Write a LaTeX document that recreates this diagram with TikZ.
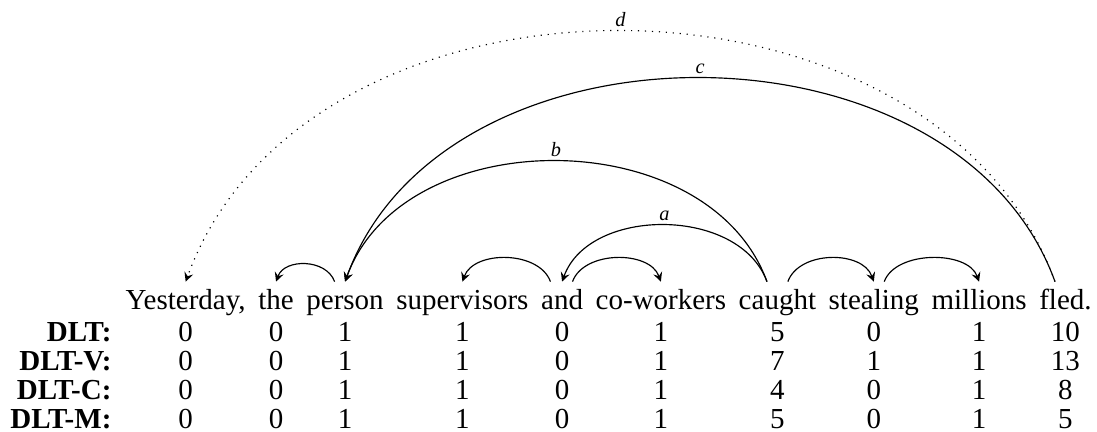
\documentclass[tikz,border=0pt]{standalone}
\usepackage{fontspec}
\setmainfont{Liberation Serif}
\usetikzlibrary{positioning}

\tikzset{
  word/.style={inner xsep=0pt, inner ysep=2.5pt, text height=7pt, text depth=2pt},
  score/.style={inner sep=0pt, anchor=base},
  rowlbl/.style={inner sep=0pt, anchor=base east, font=\bfseries},
  dep/.style={->, >=stealth},
  deplbl/.style={above, inner sep=1.5pt, font=\scriptsize\itshape}
}

\begin{document}
\begin{tikzpicture}[node distance=3.95pt]
\useasboundingbox (0,0) rectangle (13.29,5.223);

% Sentence
\node[word, anchor=base west] (w1) at (1.515,1.47) {Yesterday,};
\node[word, base right=of w1] (w2) {the};
\node[word, base right=of w2] (w3) {person};
\node[word, base right=of w3] (w4) {supervisors};
\node[word, base right=of w4] (w5) {and};
\node[word, base right=of w5] (w6) {co-workers};
\node[word, base right=of w6] (w7) {caught};
\node[word, base right=of w7] (w8) {stealing};
\node[word, base right=of w8] (w9) {millions};
\node[word, base right=of w9] (w10) {fled.};

% Row labels
\node[rowlbl] (dlt) at (1.357,1.09) {DLT:};
\node[rowlbl] (dltv) at (1.357,0.738) {DLT-V:};
\node[rowlbl] (dltc) at (1.357,0.387) {DLT-C:};
\node[rowlbl] (dltm) at (1.357,0.036) {DLT-M:};

% Scores under each word
\foreach \i/\a/\b/\c/\d in {1/0/0/0/0, 2/0/0/0/0, 3/1/1/1/1, 4/1/1/1/1, 5/0/0/0/0,
                            6/1/1/1/1, 7/5/7/4/5, 8/0/1/0/0, 9/1/1/1/1, 10/10/13/8/5} {
  \node[score] (dlt\i) at (w\i |- dlt.base) {\a};
  \node[score] (dltv\i) at (w\i |- dltv.base) {\b};
  \node[score] (dltc\i) at (w\i |- dltc.base) {\c};
  \node[score] (dltm\i) at (w\i |- dltm.base) {\d};
}

% Short dependencies
\draw[dep] ([xshift=-3.6pt]w3.north) .. controls +(110:8.5pt) and +(70:8.5pt) .. (w2.north);
\draw[dep] ([xshift=-4pt]w5.north) .. controls +(110:11.5pt) and +(70:11.5pt) .. (w4.north);
\draw[dep] ([xshift=3.6pt]w5.north) .. controls +(70:11.5pt) and +(110:11.5pt) .. (w6.north);
\draw[dep] ([xshift=3.6pt]w7.north) .. controls +(70:11.5pt) and +(110:11.5pt) .. (w8.north);
\draw[dep] ([xshift=3.6pt]w8.north) .. controls +(70:11.5pt) and +(110:11.5pt) .. (w9.north);

% Long dependencies a--d
\draw[dep] ([xshift=-3.6pt]w7.north) .. controls +(110:27.6pt) and +(70:27.6pt) .. (w5.north)
  node[deplbl, pos=0.5] {a};
\draw[dep] ([xshift=-3.6pt]w7.north) .. controls +(110:58.9pt) and +(70:58.9pt) .. (w3.north)
  node[deplbl, pos=0.5] {b};
\draw[dep] ([xshift=-3.6pt]w10.north) .. controls +(110:99.5pt) and +(70:99.5pt) .. (w3.north)
  node[deplbl, pos=0.5] {c};
\draw[dep, dotted] ([xshift=-3.6pt]w10.north) .. controls +(110:122.5pt) and +(70:122.5pt) .. (w1.north)
  node[deplbl, pos=0.5] {d};

\end{tikzpicture}
\end{document}
